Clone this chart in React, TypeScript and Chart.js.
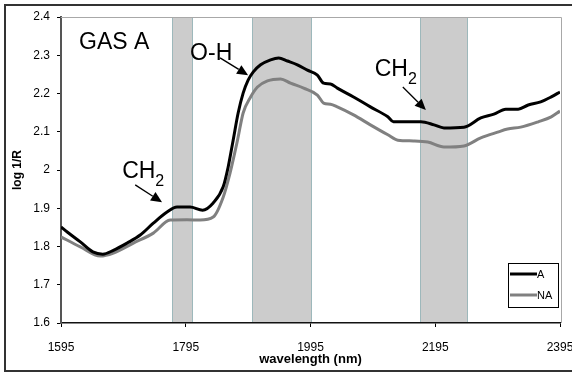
import React, { useEffect, useRef } from "react";
import { Chart, registerables } from "chart.js";

Chart.register(...registerables);

const waveA = [1595, 1605, 1626, 1646, 1662, 1679, 1701, 1722, 1743, 1765, 1781, 1802, 1822, 1839, 1855, 1863, 1871, 1879, 1887, 1895, 1903, 1915, 1931, 1944, 1958, 1974, 1990, 2006, 2016, 2027, 2038, 2064, 2091, 2119, 2128, 2151, 2172, 2193, 2209, 2241, 2268, 2289, 2308, 2328, 2344, 2364, 2381, 2395];
const logA = [1.851, 1.838, 1.812, 1.786, 1.78, 1.79, 1.809, 1.83, 1.861, 1.89, 1.903, 1.903, 1.895, 1.914, 1.956, 2.008, 2.078, 2.149, 2.201, 2.235, 2.256, 2.275, 2.288, 2.293, 2.285, 2.275, 2.261, 2.248, 2.227, 2.225, 2.214, 2.191, 2.165, 2.139, 2.126, 2.126, 2.126, 2.118, 2.11, 2.112, 2.136, 2.146, 2.159, 2.159, 2.17, 2.178, 2.191, 2.204];

const waveNA = [1595, 1626, 1658, 1679, 1711, 1743, 1770, 1797, 1818, 1839, 1855, 1866, 1878, 1887, 1899, 1910, 1926, 1947, 1963, 1984, 2006, 2016, 2027, 2038, 2064, 2091, 2119, 2135, 2160, 2183, 2209, 2241, 2268, 2295, 2311, 2332, 2360, 2381, 2395];
const logNA = [1.825, 1.799, 1.775, 1.783, 1.809, 1.835, 1.869, 1.87, 1.869, 1.877, 1.929, 1.992, 2.078, 2.149, 2.191, 2.217, 2.233, 2.238, 2.227, 2.214, 2.196, 2.175, 2.172, 2.165, 2.144, 2.118, 2.092, 2.078, 2.076, 2.073, 2.06, 2.063, 2.084, 2.099, 2.107, 2.112, 2.126, 2.139, 2.154];

const seriesNames = ["A", "NA"];
const seriesColors = ["#000000", "#808080"];

const xTicks = [1595, 1795, 1995, 2195, 2395];
const yTicks = [1.6, 1.7, 1.8, 1.9, 2.0, 2.1, 2.2, 2.3, 2.4];

const bandStart = [1773, 1902, 2170];
const bandEnd = [1805, 1995, 2246];

const noteMain = ["GAS A", "O-H", "CH", "CH"];
const noteSub = ["", "", "2", "2"];
const noteWave = [1624, 1802, 1693, 2098];
const noteLog = [2.316, 2.288, 1.979, 2.246];

const arrowFromWave = [1850, 1714, 2143];
const arrowFromLog = [2.293, 1.961, 2.217];
const arrowToWave = [1895, 1757, 2180];
const arrowToLog = [2.248, 1.916, 2.157];

const FONT = "'Liberation Sans', Arial, sans-serif";

function drawArrow(ctx: CanvasRenderingContext2D, x0: number, y0: number, x1: number, y1: number) {
  const ang = Math.atan2(y1 - y0, x1 - x0);
  const head = 11;
  const w = 5;
  const c = Math.cos(ang);
  const s = Math.sin(ang);
  ctx.beginPath();
  ctx.moveTo(x0, y0);
  ctx.lineTo(x1 - head * c, y1 - head * s);
  ctx.lineWidth = 1.3;
  ctx.stroke();
  ctx.beginPath();
  ctx.moveTo(x1, y1);
  ctx.lineTo(x1 - head * c + w * s, y1 - head * s - w * c);
  ctx.lineTo(x1 - head * c - w * s, y1 - head * s + w * c);
  ctx.closePath();
  ctx.fill();
}

const bandPlugin = {
  id: "bands",
  beforeDatasetsDraw(chart: any) {
    const { ctx, chartArea: a, scales } = chart;
    const x = scales.x;
    ctx.save();
    for (let i = 0; i < bandStart.length; i++) {
      const x0 = Math.round(x.getPixelForValue(bandStart[i]));
      const x1 = Math.round(x.getPixelForValue(bandEnd[i]));
      ctx.fillStyle = "#cccccc";
      ctx.fillRect(x0, a.top, x1 - x0, a.bottom - a.top - 1);
      ctx.strokeStyle = "#9db8bb";
      ctx.lineWidth = 1;
      ctx.beginPath();
      ctx.moveTo(x0 + 0.5, a.top);
      ctx.lineTo(x0 + 0.5, a.bottom - 1);
      ctx.moveTo(x1 + 0.5, a.top);
      ctx.lineTo(x1 + 0.5, a.bottom - 1);
      ctx.moveTo(x0, a.top + 0.5);
      ctx.lineTo(x1, a.top + 0.5);
      ctx.stroke();
    }
    ctx.strokeStyle = "#a8a8a8";
    ctx.lineWidth = 1;
    ctx.beginPath();
    ctx.moveTo(a.left, a.top + 0.5);
    ctx.lineTo(a.right + 1.5, a.top + 0.5);
    ctx.lineTo(a.right + 1.5, a.bottom);
    ctx.stroke();
    ctx.restore();
  },
  afterDraw(chart: any) {
    const { ctx, chartArea: a, scales } = chart;
    const x = scales.x;
    const y = scales.y;
    ctx.save();
    ctx.fillStyle = "#000";
    ctx.strokeStyle = "#000";
    ctx.textBaseline = "alphabetic";
    ctx.textAlign = "left";
    for (let i = 0; i < noteMain.length; i++) {
      const px = x.getPixelForValue(noteWave[i]);
      const py = y.getPixelForValue(noteLog[i]);
      ctx.font = `23px ${FONT}`;
      ctx.fillText(noteMain[i], px, py);
      if (noteSub[i]) {
        const w = ctx.measureText(noteMain[i]).width;
        ctx.font = `16px ${FONT}`;
        ctx.fillText(noteSub[i], px + w, py + 8);
      }
    }
    for (let i = 0; i < arrowFromWave.length; i++) {
      drawArrow(
        ctx,
        x.getPixelForValue(arrowFromWave[i]),
        y.getPixelForValue(arrowFromLog[i]),
        x.getPixelForValue(arrowToWave[i]),
        y.getPixelForValue(arrowToLog[i])
      );
    }
    // legend
    const lw = 50;
    const lh = 44;
    const lx = a.right - 2 - lw;
    const ly = a.bottom - 16 - lh;
    ctx.fillStyle = "#fff";
    ctx.fillRect(lx, ly, lw, lh);
    ctx.strokeStyle = "#000";
    ctx.lineWidth = 1;
    ctx.strokeRect(lx + 0.5, ly + 0.5, lw, lh);
    ctx.font = `11px ${FONT}`;
    ctx.textBaseline = "middle";
    for (let i = 0; i < seriesNames.length; i++) {
      const yy = ly + 11 + i * 21;
      ctx.strokeStyle = seriesColors[i];
      ctx.lineWidth = 3;
      ctx.beginPath();
      ctx.moveTo(lx + 2, yy);
      ctx.lineTo(lx + 29, yy);
      ctx.stroke();
      ctx.fillStyle = "#000";
      ctx.fillText(seriesNames[i], lx + 29, yy + 1);
    }
    // outer frame (right edge falls just past the canvas, as in the reference)
    ctx.strokeStyle = "#333";
    ctx.lineWidth = 2;
    ctx.beginPath();
    ctx.moveTo(574, 5);
    ctx.lineTo(5, 5);
    ctx.lineTo(5, 371);
    ctx.lineTo(574, 371);
    ctx.stroke();
    ctx.restore();
  },
};

export default function App() {
  const ref = useRef<HTMLCanvasElement | null>(null);
  useEffect(() => {
    if (!ref.current) return;
    const chart = new Chart(ref.current, {
      type: "line",
      data: {
        datasets: [
          {
            label: seriesNames[0],
            data: waveA.map((w, i) => ({ x: w, y: logA[i] })),
            borderColor: seriesColors[0],
            borderWidth: 3,
            pointRadius: 0,
            cubicInterpolationMode: "monotone",
            fill: false,
          },
          {
            label: seriesNames[1],
            data: waveNA.map((w, i) => ({ x: w, y: logNA[i] })),
            borderColor: seriesColors[1],
            borderWidth: 3,
            pointRadius: 0,
            cubicInterpolationMode: "monotone",
            fill: false,
          },
        ],
      },
      options: {
        responsive: false,
        animation: false,
        devicePixelRatio: 1,
        layout: { padding: { left: 0, top: 17, right: 12, bottom: 0 } },
        plugins: { legend: { display: false }, tooltip: { enabled: false } },
        scales: {
          x: {
            type: "linear",
            min: 1595,
            max: 2395,
            afterBuildTicks: (s: any) => {
              s.ticks = xTicks.map((v) => ({ value: v }));
            },
            afterFit: (s: any) => {
              s.height = 53;
              s.paddingLeft = 0;
              s.paddingRight = 0;
            },
            grid: { drawOnChartArea: false, drawTicks: true, tickLength: 4, color: "#000" },
            border: { display: true, color: "#111", width: 1.5 },
            ticks: {
              color: "#000",
              font: { family: FONT, size: 12 },
              padding: 13,
              maxRotation: 0,
              callback: (v: any) => String(v),
            },
            title: {
              display: true,
              text: "wavelength (nm)",
              color: "#000",
              font: { family: FONT, size: 13, weight: "bold" },
              padding: { top: 0, bottom: 9 },
            },
          },
          y: {
            type: "linear",
            min: 1.6,
            max: 2.4,
            afterBuildTicks: (s: any) => {
              s.ticks = yTicks.map((v) => ({ value: v }));
            },
            afterFit: (s: any) => {
              s.width = 61;
              s.paddingTop = 0;
              s.paddingBottom = 0;
            },
            grid: { drawOnChartArea: false, drawTicks: true, tickLength: 4, color: "#000" },
            border: { display: true, color: "#555", width: 2 },
            ticks: {
              color: "#000",
              font: { family: FONT, size: 12 },
              padding: 7,
              callback: (v: any) => String(Math.round(Number(v) * 10) / 10),
            },
            title: {
              display: true,
              text: "log 1/R",
              color: "#000",
              font: { family: FONT, size: 12, weight: "bold" },
              padding: { top: 10, bottom: 0 },
            },
          },
        },
      },
      plugins: [bandPlugin],
    } as any);
    return () => chart.destroy();
  }, []);
  return (
    <div style={{ position: "absolute", left: 0, top: 0, width: 572, height: 376, background: "#fff" }}>
      <canvas ref={ref} width={572} height={376} style={{ width: 572, height: 376, display: "block" }} />
    </div>
  );
}
